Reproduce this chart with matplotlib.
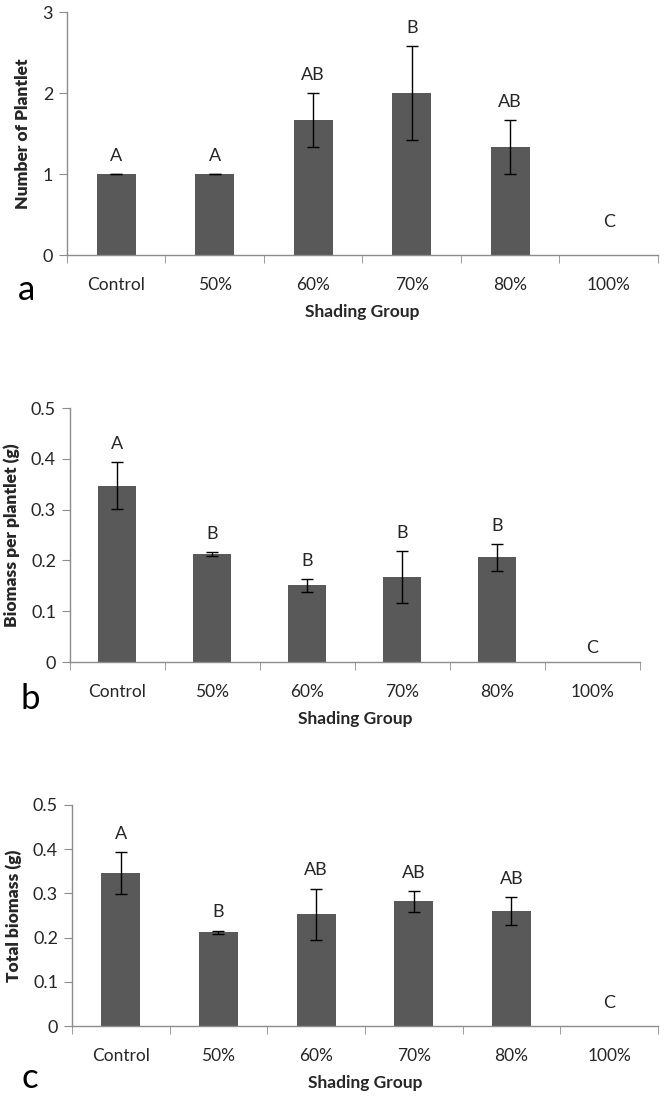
import numpy as np
import matplotlib
matplotlib.use('Agg')
import matplotlib.pyplot as plt

plt.rcParams['font.family'] = ['Lato', 'DejaVu Sans']

groups = ['Control', '50%', '60%', '70%', '80%', '100%']

# a: number of plantlet
plantlet_mean = [1.0, 1.0, 1.667, 2.0, 1.333, 0.0]
plantlet_err = [0.0, 0.0, 0.333, 0.577, 0.333, 0.0]
plantlet_letters = ['A', 'A', 'AB', 'B', 'AB', 'C']

# b: biomass per plantlet (g)
per_plantlet_mean = [0.347, 0.212, 0.151, 0.168, 0.206, 0.0]
per_plantlet_err = [0.046, 0.004, 0.013, 0.051, 0.026, 0.0]
per_plantlet_letters = ['A', 'B', 'B', 'B', 'B', 'C']

# c: total biomass (g)
total_mean = [0.346, 0.212, 0.253, 0.282, 0.260, 0.0]
total_err = [0.047, 0.004, 0.058, 0.024, 0.032, 0.0]
total_letters = ['A', 'B', 'AB', 'AB', 'AB', 'C']

BAR = '#595959'
AXIS = '#8c8c8c'
TXT = '#262626'


def panel(rect, mean, err, letters, ylim, yticks, ylabel, tag, tag_xy, c_off):
    ax = fig.add_axes(rect)
    x = np.arange(len(groups))
    mean = np.array(mean)
    err = np.array(err)
    ax.bar(x, mean, width=0.4, color=BAR, zorder=2)
    ok = mean > 0
    ax.errorbar(x[ok], mean[ok], yerr=err[ok], fmt='none', ecolor='black',
                elinewidth=1.0, capsize=4, capthick=1.0, zorder=3)
    for i, lab in enumerate(letters):
        if mean[i] > 0:
            ax.annotate(lab, (x[i], mean[i] + err[i]), xytext=(0, 13),
                        textcoords='offset points', ha='center', va='center',
                        fontsize=13, color=TXT)
        else:
            ax.annotate(lab, (x[i], 0), xytext=(0, c_off),
                        textcoords='offset points', ha='center', va='center',
                        fontsize=13, color=TXT)
    ax.set_xlim(-0.5, len(groups) - 0.5)
    ax.set_ylim(*ylim)
    ax.set_yticks(yticks)
    ax.set_yticklabels([('%g' % t) for t in yticks])
    ax.set_xticks(x)
    ax.set_xticklabels(groups)
    ax.set_xticks(np.arange(len(groups) + 1) - 0.5, minor=True)
    ax.tick_params(axis='x', which='major', length=0, pad=16, labelsize=12.5, colors=TXT)
    ax.tick_params(axis='x', which='minor', length=6, color=AXIS, direction='out')
    ax.tick_params(axis='y', length=6, color=AXIS, labelsize=13, pad=4, colors=TXT)
    ax.tick_params(axis='y', color=AXIS)
    for s in ['top', 'right']:
        ax.spines[s].set_visible(False)
    for s in ['left', 'bottom']:
        ax.spines[s].set_color(AXIS)
        ax.spines[s].set_linewidth(1.0)
    ax.set_ylabel(ylabel, fontsize=12.5, fontweight='heavy', color=TXT, labelpad=8)
    ax.set_xlabel('Shading Group', fontsize=12.5, fontweight='bold', color=TXT, labelpad=8)
    ax.text(tag_xy[0], tag_xy[1], tag, transform=ax.transAxes, fontsize=25, color='black',
            ha='center', va='baseline')
    return ax


fig = plt.figure(figsize=(6.64, 10.97), dpi=100)

panel([0.1009, 0.7675, 0.890, 0.2215], plantlet_mean, plantlet_err, plantlet_letters,
      (0, 3), [0, 1, 2, 3], 'Number of Plantlet', 'a', (-0.068, -0.185), 24)
panel([0.1054, 0.3965, 0.8584, 0.2315], per_plantlet_mean, per_plantlet_err,
      per_plantlet_letters, (0, 0.5), [0, 0.1, 0.2, 0.3, 0.4, 0.5],
      'Biomass per plantlet (g)', 'b', (-0.070, -0.183), 10)
panel([0.1084, 0.0647, 0.8825, 0.2015], total_mean, total_err, total_letters,
      (0, 0.5), [0, 0.1, 0.2, 0.3, 0.4, 0.5], 'Total biomass (g)', 'c', (-0.072, -0.281), 16.5)

fig.savefig('out.png', dpi=100)
